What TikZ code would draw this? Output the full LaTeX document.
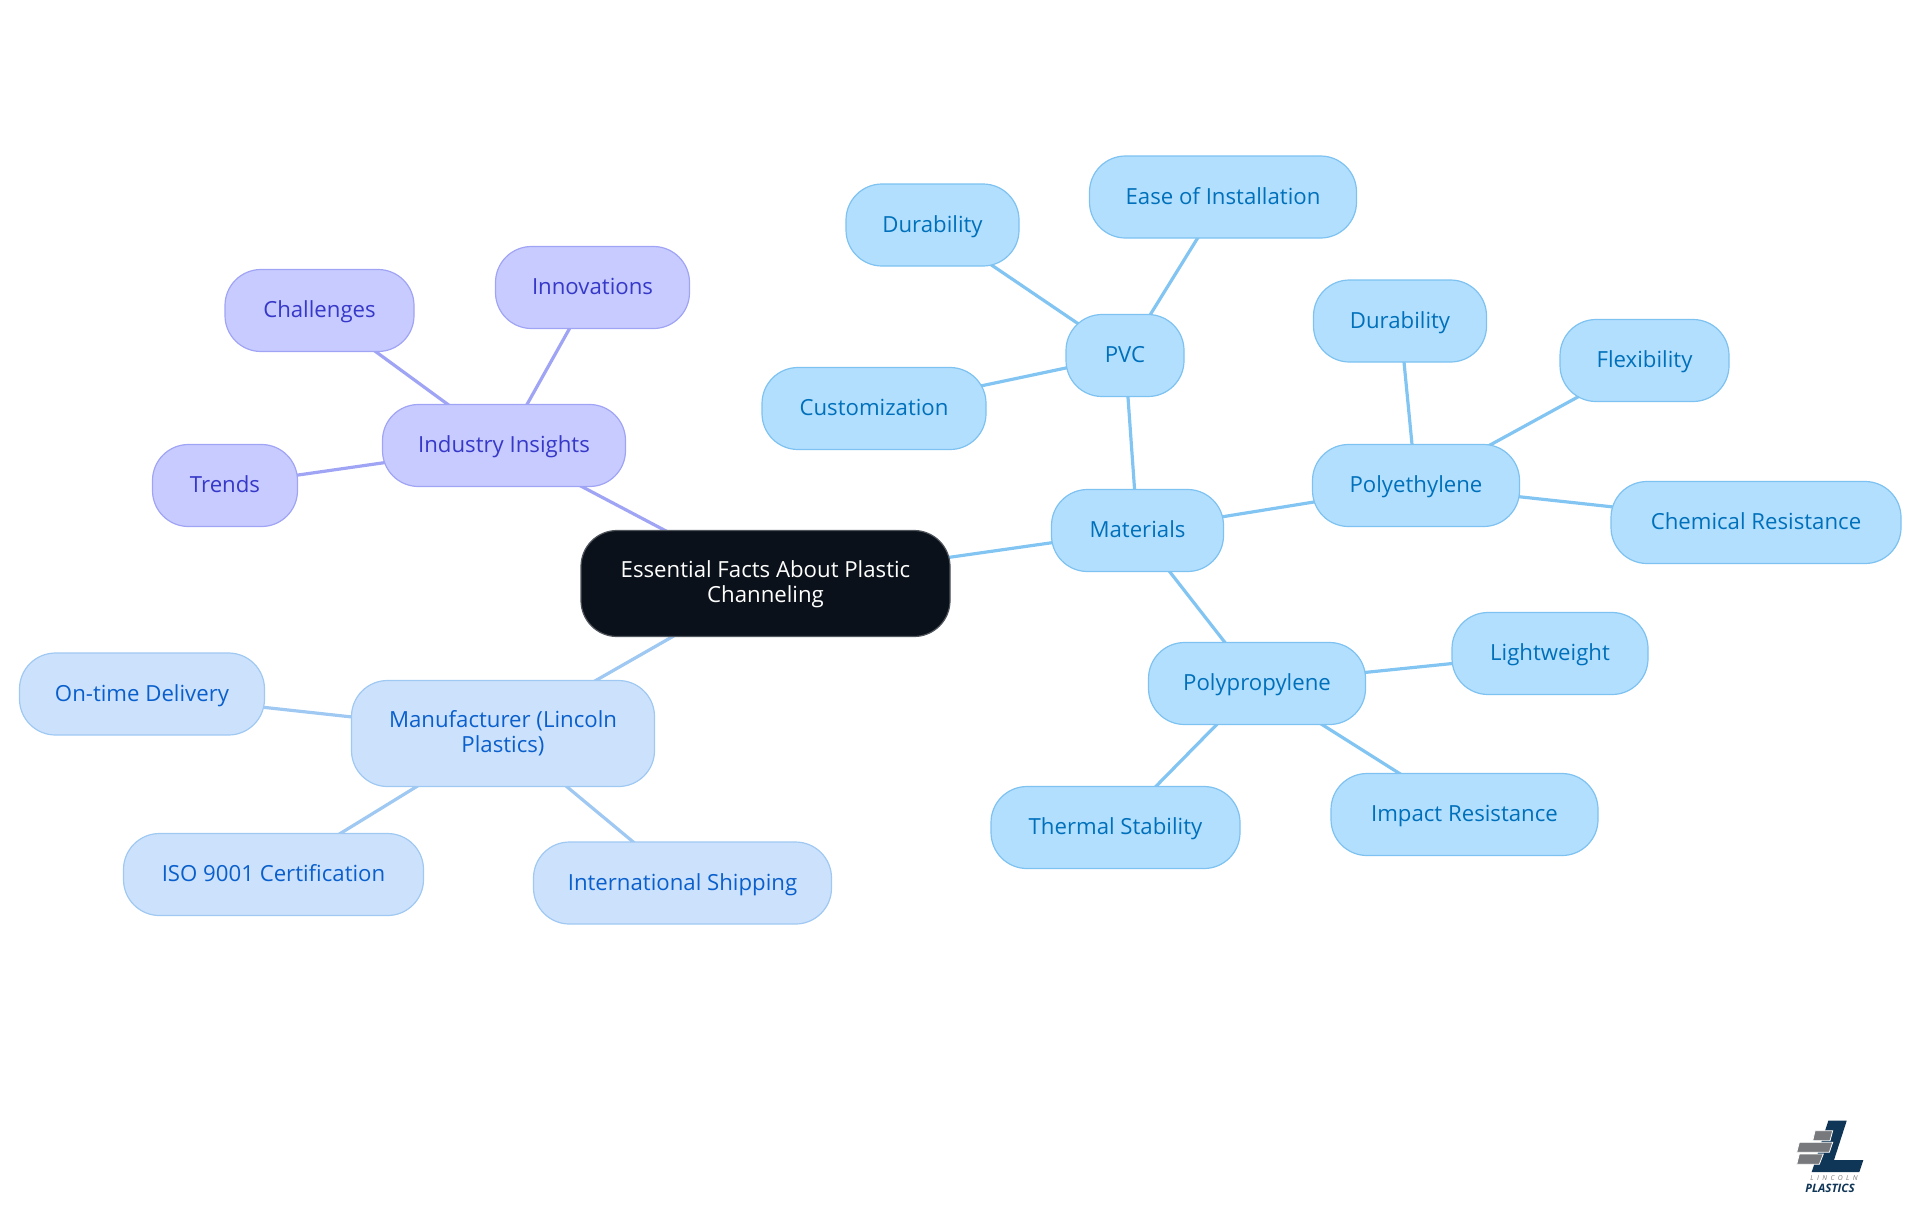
\documentclass[tikz,border=0pt]{standalone}
\usepackage{fontspec}
\setmainfont{Open Sans}
\usetikzlibrary{backgrounds}
\definecolor{RootInk}{HTML}{0A111A}
\definecolor{RootLine}{HTML}{50555C}
\definecolor{sSky}{HTML}{B3DFFF}
\definecolor{sSkyLine}{HTML}{7DC2F0}
\definecolor{sSkyInk}{HTML}{0070BA}
\definecolor{sBlue}{HTML}{CCE2FC}
\definecolor{sBlueLine}{HTML}{9FC8F2}
\definecolor{sBlueInk}{HTML}{0A5FCC}
\definecolor{sPurple}{HTML}{C8CBFF}
\definecolor{sPurpleLine}{HTML}{A0A4F5}
\definecolor{sPurpleInk}{HTML}{3638C8}
\definecolor{LogoNavy}{HTML}{0F3557}
\definecolor{LogoGrey}{HTML}{77797C}
\tikzset{
  mapnode/.style={rounded corners=18pt, line width=0.6pt, inner sep=0pt, align=center,
    font=\fontsize{11.1}{12.25}\selectfont, minimum height=41pt, yshift=-0.25pt,
    text height=10pt, text depth=2.7pt},
  twoline/.style={text height=22pt, text depth=3.25pt, minimum height=53pt},
  rootnode/.style={mapnode, twoline, fill=RootInk, draw=RootLine, text=white},
  skynode/.style={mapnode, fill=sSky, draw=sSkyLine, text=sSkyInk},
  bluenode/.style={mapnode, fill=sBlue, draw=sBlueLine, text=sBlueInk},
  purplenode/.style={mapnode, fill=sPurple, draw=sPurpleLine, text=sPurpleInk},
  skyline/.style={line width=1.6pt, draw=sSkyLine!90!sSky},
  blueline/.style={line width=1.6pt, draw=sBlueLine},
  purpleline/.style={line width=1.6pt, draw=sPurpleLine},
}
\begin{document}
\begin{tikzpicture}[x=0.5pt, y=-0.5pt]
  \useasboundingbox (0,0) rectangle (1920,1215);
  % centre
  \node[rootnode, minimum width=184.5pt] (root) at (765.5,583) {Essential Facts About Plastic\\Channeling};
  % materials branch
  \node[skynode, minimum width=86pt] (materials) at (1137.5,530) {Materials};
  \node[skynode, minimum width=59pt] (pvc) at (1125,355) {PVC};
  \node[skynode, minimum width=103.5pt] (polyethylene) at (1416,485) {Polyethylene};
  \node[skynode, minimum width=108.5pt] (polypropylene) at (1257,683) {Polypropylene};
  \node[skynode, minimum width=86.5pt] (durabilitya) at (932.5,224.5) {Durability};
  \node[skynode, minimum width=133.5pt] (easeinstall) at (1223,196.5) {Ease of Installation};
  \node[skynode, minimum width=112pt] (customization) at (874,408) {Customization};
  \node[skynode, minimum width=86.5pt] (durabilityb) at (1400,320.5) {Durability};
  \node[skynode, minimum width=84.5pt] (flexibility) at (1644.5,360) {Flexibility};
  \node[skynode, minimum width=145pt] (chemical) at (1756,522) {Chemical Resistance};
  \node[skynode, minimum width=98pt] (lightweight) at (1550,653) {Lightweight};
  \node[skynode, minimum width=133.5pt] (impact) at (1464.5,814) {Impact Resistance};
  \node[skynode, minimum width=124.5pt] (thermal) at (1115.5,827) {Thermal Stability};
  % insights branch
  \node[purplenode, minimum width=121.5pt] (insights) at (504,445) {Industry Insights};
  \node[purplenode, minimum width=94.5pt] (challenges) at (319.5,310) {Challenges};
  \node[purplenode, minimum width=97pt] (innovations) at (592.5,287) {Innovations};
  \node[purplenode, minimum width=72.5pt] (trends) at (225,485) {Trends};
  % manufacturer branch
  \node[bluenode, twoline, minimum width=151.5pt] (manufacturer) at (503,733) {Manufacturer (Lincoln\\Plastics)};
  \node[bluenode, minimum width=122.5pt] (ontime) at (142,693.5) {On-time Delivery};
  \node[bluenode, minimum width=150pt] (iso) at (273.5,874) {ISO 9001 Certification};
  \node[bluenode, minimum width=149pt] (shipping) at (682.5,882.5) {International Shipping};
  \begin{scope}[on background layer]
    \foreach \a/\b in {root/materials, materials/pvc, materials/polyethylene, materials/polypropylene,
        pvc/durabilitya, pvc/easeinstall, pvc/customization,
        polyethylene/durabilityb, polyethylene/flexibility, polyethylene/chemical,
        polypropylene/lightweight, polypropylene/impact, polypropylene/thermal}
      \draw[skyline] (\a.center) -- (\b.center);
    \foreach \a/\b in {root/insights, insights/challenges, insights/innovations, insights/trends}
      \draw[purpleline] (\a.center) -- (\b.center);
    \foreach \a/\b in {root/manufacturer, manufacturer/ontime, manufacturer/iso, manufacturer/shipping}
      \draw[blueline] (\a.center) -- (\b.center);
  \end{scope}
  % logo
  \fill[LogoNavy] (1828.3,1120.7) -- (1846.7,1120.7) -- (1834,1160) -- (1863.3,1160) -- (1859.3,1172) -- (1811.7,1172) -- cycle;
  \fill[LogoGrey, draw=white, line width=0.4pt] (1815,1130.7) -- (1832.7,1130.7) -- (1830,1140.7) -- (1812.7,1140.7) -- cycle;
  \fill[LogoGrey, draw=white, line width=0.4pt] (1799.3,1142.3) -- (1832.7,1142.3) -- (1829.3,1152.3) -- (1796.7,1152.3) -- cycle;
  \fill[LogoGrey, draw=white, line width=0.4pt] (1799.3,1154) -- (1823.3,1154) -- (1819.3,1164.3) -- (1796.7,1164.3) -- cycle;
  \node[inner sep=0pt, text=LogoGrey, font=\fontsize{3.4}{4}\selectfont\itshape] (logotop) at (1834,1178.5) {L\,\,\,I\,\,\,N\,\,\,C\,\,\,O\,\,\,L\,\,\,N};
  \node[inner sep=0pt, text=LogoNavy, font=\fontsize{5.8}{6}\selectfont\bfseries\itshape] (logoname) at (1830,1188.5) {PLASTICS};
\end{tikzpicture}
\end{document}
